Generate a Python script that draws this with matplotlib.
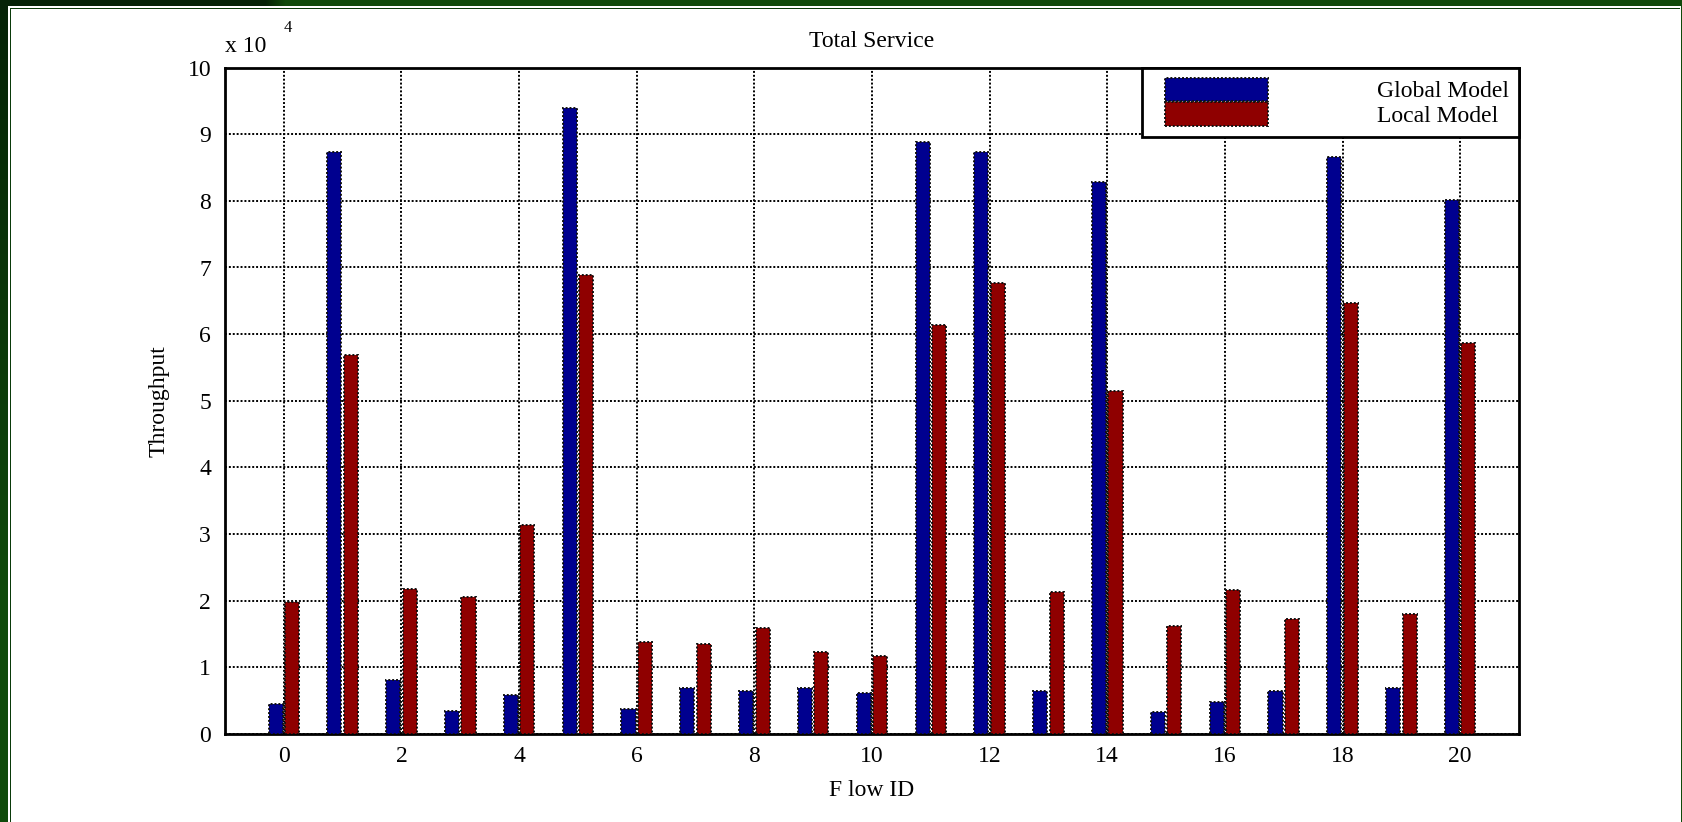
import numpy as np
import matplotlib
matplotlib.use("Agg")
import matplotlib.pyplot as plt
from matplotlib.ticker import FuncFormatter, MultipleLocator
from matplotlib.patches import Rectangle
from matplotlib.legend_handler import HandlerPatch
from matplotlib.container import BarContainer

# ---- data (throughput) ----
flow_ids = list(range(21))
global_model = [4500, 87400, 8000, 3400, 5800, 94000, 3700, 6800, 6400, 6800, 6100,
                88900, 87400, 6400, 82900, 3200, 4700, 6400, 86600, 6800, 80200]
local_model = [19800, 56800, 21700, 20600, 31400, 68800, 13800, 13400, 15800, 12200, 11600,
               61300, 67600, 21300, 51500, 16100, 21600, 17200, 64600, 17900, 58600]
series_names = ["Global Model", "Local Model"]
xtick_values = list(range(0, 21, 2))
title_text = "Total Service"
xlabel_text = "F low ID"
ylabel_text = "Throughput"

W, H = 1683, 822
fig = plt.figure(figsize=(W / 100, H / 100), dpi=100)

# ---- green frame background ----
img = np.ones((H, W, 3))
yy, xx = np.mgrid[0:H, 0:W]
dark = np.array([0x05, 0x22, 0x07]) / 255.0
light = np.array([0x0f, 0x4a, 0x0a]) / 255.0
t = np.maximum(np.clip((xx - 265) / 20.0, 0, 1), np.clip(yy / 600.0, 0, 1))
green = dark[None, None, :] * (1 - t[..., None]) + light[None, None, :] * t[..., None]
mask = (xx < 8) | (yy < 7) | (xx >= 1681)
img[mask] = green[mask]
line = np.array([0x0a, 0x3a, 0x0a]) / 255.0
img[(yy == 9) & (xx >= 10) & (xx < 1680)] = line
img[(xx == 10) & (yy >= 9)] = line
bg = fig.add_axes([0, 0, 1, 1], zorder=-10)
bg.imshow(img, extent=[0, W, H, 0], aspect="auto", interpolation="nearest")
bg.set_axis_off()

serif = ["Liberation Serif", "DejaVu Serif"]
plt.rcParams["font.family"] = serif
FS = 17

ax = fig.add_axes([225 / W, (H - 733.7) / H, 1294 / W, 666 / H])
x = np.array(flow_ids, dtype=float)
bw = 0.24
off = 0.14
ax.bar(x - off, global_model, width=bw, color="#00008f", edgecolor="#111111",
       linewidth=1.4, linestyle=(0, (1, 1)), label=series_names[0], zorder=3)
ax.bar(x + off, local_model, width=bw, color="#8f0000", edgecolor="#111111",
       linewidth=1.4, linestyle=(0, (1, 1)), label=series_names[1], zorder=3)

ax.set_xlim(-1, 21)
ax.set_ylim(0, 100000)
ax.set_xticks(xtick_values)
ax.yaxis.set_major_locator(MultipleLocator(10000))
ax.yaxis.set_major_formatter(FuncFormatter(lambda v, p: f"{v / 1e4:g}"))
ax.set_axisbelow(True)
ax.grid(True, color="black", linestyle=(0, (1, 1)), linewidth=1.4)
ax.tick_params(direction="in", length=0, labelsize=FS, pad=9)
ax.tick_params(axis="y", pad=10)
for s in ax.spines.values():
    s.set_linewidth(2)
    s.set_color("black")

ax.set_title(title_text, fontsize=FS, pad=15)
ax.set_xlabel(xlabel_text, fontsize=FS, labelpad=9)
ax.set_ylabel(ylabel_text, fontsize=FS, labelpad=13)

ax.text(0.0, 1.0236, "x 10", transform=ax.transAxes, fontsize=FS, ha="left", va="baseline")
ax.text(0.045, 1.053, "4", transform=ax.transAxes, fontsize=12, ha="left", va="baseline")

HOFF = 13 * 0.72  # points offset of legend swatches


def make_patch(legend, orig_handle, xdescent, ydescent, width, height, fontsize):
    return Rectangle((-xdescent + HOFF, -ydescent), width - HOFF, height)


def first_child(legend_handle, orig_handle):
    legend_handle.update_from(orig_handle.patches[0])


leg = ax.legend(loc="upper right", bbox_to_anchor=(1.0, 1.0),
                borderaxespad=0, fontsize=FS, handlelength=4.92, handleheight=1.15,
                labelspacing=0.0, handletextpad=4.6, borderpad=0.42,
                fancybox=False, shadow=False, framealpha=1, edgecolor="black",
                handler_map={BarContainer: HandlerPatch(patch_func=make_patch,
                                                        update_func=first_child)})
leg.get_frame().set_linewidth(2)
for h in leg.legend_handles:
    h.set_linestyle((0, (1, 1)))
    h.set_edgecolor("#111111")

fig.savefig("out.png", dpi=100)
